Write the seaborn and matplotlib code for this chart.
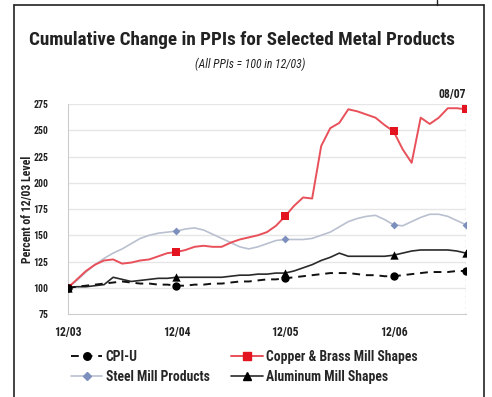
import numpy as np
import pandas as pd
import matplotlib
matplotlib.use("Agg")
import matplotlib.pyplot as plt
from matplotlib.lines import Line2D
from matplotlib import font_manager
import seaborn as sns

# Monthly index values, 12/03 through 08/07 (12/03 = 100)
months = pd.period_range("2003-12", "2007-08", freq="M").strftime("%m/%y").tolist()

cpi_u = [100, 101, 102, 103, 104, 105, 106, 105, 104, 104, 103, 103, 102,
         102, 103, 103, 104, 104, 105, 106, 106, 107, 108, 108, 109,
         110, 111, 112, 113, 114, 114, 114, 113, 112, 112, 111, 111,
         112, 113, 114, 115, 115, 115, 116, 116]

copper_brass = [100, 108, 116, 122, 126, 127, 123, 124, 126, 127, 130, 133, 134,
                136, 139, 140, 139, 139, 143, 146, 148, 150, 153, 159, 168,
                178, 186, 185, 235, 252, 257, 270, 268, 265, 262, 255, 249,
                232, 219, 262, 256, 262, 271, 271, 270]

steel_mill = [100, 107, 115, 122, 128, 133, 137, 142, 147, 150, 152, 153, 154,
              156, 157, 155, 151, 147, 143, 139, 137, 139, 142, 145, 146,
              146, 146, 147, 150, 153, 158, 163, 166, 168, 169, 165, 160,
              159, 163, 167, 170, 170, 168, 164, 160]

aluminum = [100, 101, 101, 102, 103, 110, 108, 106, 107, 108, 109, 109, 110,
            110, 110, 110, 110, 110, 111, 112, 112, 113, 113, 114, 114,
            116, 119, 122, 126, 129, 133, 130, 130, 130, 130, 130, 131,
            133, 135, 136, 136, 136, 136, 135, 133]

marker_months = ["12/03", "12/04", "12/05", "12/06", "08/07"]
tick_labels = ["12/03", "12/04", "12/05", "12/06"]
y_ticks = [75, 100, 125, 150, 175, 200, 225, 250, 275]

series_names = ["CPI-U", "Copper & Brass Mill Shapes", "Steel Mill Products",
                "Aluminum Mill Shapes"]

df = pd.DataFrame({
    "month": months,
    "CPI-U": cpi_u,
    "Copper & Brass Mill Shapes": copper_brass,
    "Steel Mill Products": steel_mill,
    "Aluminum Mill Shapes": aluminum,
})
df["pos"] = np.arange(len(df))
long = df.melt(id_vars=["month", "pos"], value_vars=series_names,
               var_name="series", value_name="value")

styles = {
    "CPI-U": dict(color="#111111", ls=(0, (4, 3)), lw=1.4, marker="o", ms=6,
                  mc="#000000"),
    "Copper & Brass Mill Shapes": dict(color="#e8505a", ls="-", lw=1.4, marker="s",
                                       ms=6, mc="#e3141f"),
    "Steel Mill Products": dict(color="#b9c0cf", ls="-", lw=1.2, marker="D", ms=4,
                                mc="#7d8fbd"),
    "Aluminum Mill Shapes": dict(color="#2a2a2a", ls="-", lw=1.2, marker="^", ms=6,
                                 mc="#000000"),
}

sns.set_theme(style="white")
installed = {f.name for f in font_manager.fontManager.ttflist}
preferred = ["Roboto Condensed", "Archivo Narrow", "PT Sans Narrow",
             "Fira Sans Condensed", "IBM Plex Sans Condensed",
             "Encode Sans Condensed", "Liberation Sans Narrow", "DejaVu Sans"]
narrow = next(f for f in preferred if f in installed)
plt.rcParams["font.family"] = [narrow, "DejaVu Sans"]

fig = plt.figure(figsize=(4.92, 3.97), dpi=100)
ax = fig.add_axes([0.138, 0.209, 0.809, 0.529])

for y in y_ticks[1:]:
    ax.axhline(y, color="#e6e6e6", lw=1.0, zorder=0)

order = ["Steel Mill Products", "Copper & Brass Mill Shapes", "Aluminum Mill Shapes", "CPI-U"]
for name in order:
    st = styles[name]
    sub = long[long["series"] == name]
    sns.lineplot(data=sub, x="pos", y="value", ax=ax, color=st["color"],
                 linestyle=st["ls"], linewidth=st["lw"], legend=False, zorder=3)
    pts = sub[sub["month"].isin(marker_months)]
    sns.scatterplot(data=pts, x="pos", y="value", ax=ax, marker=st["marker"],
                    s=st["ms"] ** 2, color=st["mc"], edgecolor=st["mc"],
                    linewidth=0, legend=False, zorder=4)

last = len(months) - 1
ax.axvline(last, color="#bfbfbf", lw=1.0, ls=(0, (1.5, 2.5)), zorder=1)

ax.set_xlim(0, last)
ax.set_ylim(75, 275)
ax.set_yticks(y_ticks)
ax.set_yticklabels([str(v) for v in y_ticks], fontsize=7, fontweight="bold",
                   color="#222222")
major_pos = [months.index(m) for m in tick_labels]
ax.set_xticks(major_pos)
ax.set_xticklabels(tick_labels, fontsize=8.5, fontweight="bold", color="#222222")
ax.set_xticks([6, 18, 30, 42, last], minor=True)
ax.tick_params(axis="x", which="both", direction="inout", length=5, width=0.8,
               color="#c8c8c8", pad=6)
ax.tick_params(axis="y", length=0, pad=14)
ax.set_xlabel("")
ax.set_ylabel("Percent of 12/03 Level", fontsize=8.5, fontweight="bold",
              color="#222222")
ax.yaxis.set_label_coords(-0.085, 0.5)
for side in ["top", "right"]:
    ax.spines[side].set_visible(False)
for side in ["left", "bottom"]:
    ax.spines[side].set_color("#cccccc")
    ax.spines[side].set_linewidth(0.8)

ax.text(last, 278, "08/07", ha="right", va="bottom", fontsize=8.5,
        fontweight="bold", color="#222222")

title = fig.text(0.492, 0.898, "Cumulative Change in PPIs for Selected Metal Products",
                 ha="center", va="center", fontsize=14, fontweight="bold",
                 color="#222222")
# Fit the title to the panel width
renderer = fig.canvas.get_renderer()
w = title.get_window_extent(renderer).width
title.set_fontsize(14 * 427.0 / w)

fig.text(0.508, 0.838, "(All PPIs = 100 in 12/03)", ha="center", va="center",
         fontsize=8.5, style="italic", color="#222222")

handles = []
for name in ["CPI-U", "Steel Mill Products", "Copper & Brass Mill Shapes",
             "Aluminum Mill Shapes"]:
    st = styles[name]
    handles.append(Line2D([], [], color=st["color"], ls=st["ls"], lw=st["lw"],
                          marker=st["marker"], ms=st["ms"] * 0.9,
                          markerfacecolor=st["mc"], markeredgecolor=st["mc"],
                          label=name))
fig.legend(handles=handles, ncol=2, loc="upper left",
           bbox_to_anchor=(0.133, 0.132), frameon=False,
           prop={"size": 9.8, "weight": "bold"},
           handlelength=2.3, handletextpad=0.25, columnspacing=1.6,
           labelspacing=0.42, borderaxespad=0)

# Panel frame
fig.add_artist(Line2D([0.029, 0.029], [0.0, 0.987], transform=fig.transFigure,
                      color="#222222", lw=1.2))
fig.add_artist(Line2D([0.029, 0.984], [0.987, 0.987], transform=fig.transFigure,
                      color="#222222", lw=1.2))
fig.add_artist(Line2D([0.984, 0.984], [0.0, 0.987], transform=fig.transFigure,
                      color="#222222", lw=1.2))
fig.add_artist(Line2D([0.888, 0.888], [0.987, 1.0], transform=fig.transFigure,
                      color="#222222", lw=1.0))

fig.savefig("out.png", dpi=100, facecolor="white")
